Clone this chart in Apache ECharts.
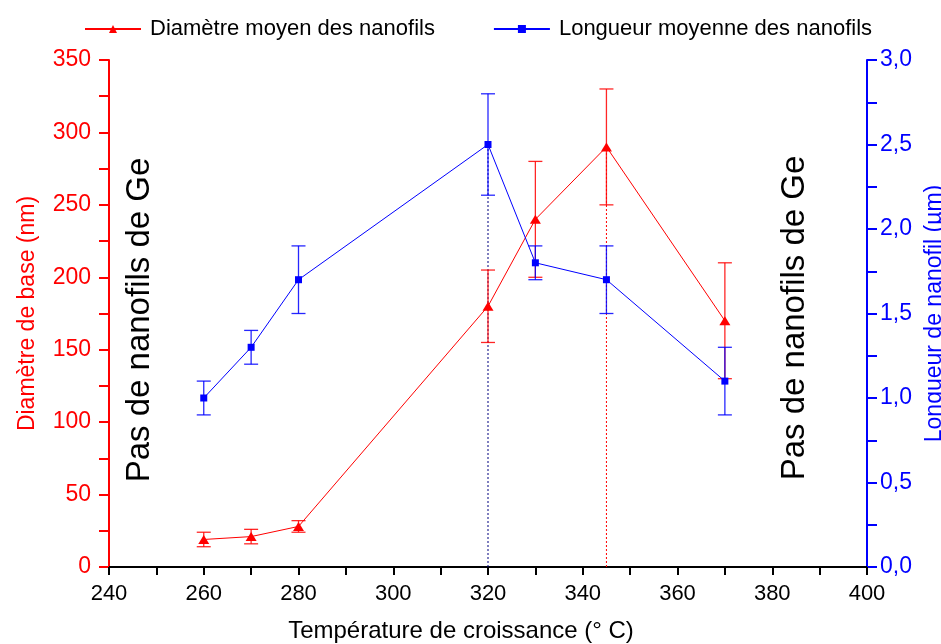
<!DOCTYPE html>
<html>
<head>
<meta charset="utf-8">
<script src="https://cdn.jsdelivr.net/npm/echarts@6/dist/echarts.min.js"></script>
<style>
html,body{margin:0;padding:0;background:#fff;}
#chart{width:941px;height:644px;}
</style>
</head>
<body>
<div id="chart"></div>
<script>
// ---- data ----
const temperatures   = [260, 270, 280, 320, 330, 345, 370];
const diameter       = [19, 21, 28, 180, 240, 290, 170];
const diameterLow    = [14, 16, 24, 155, 200, 250, 130];
const diameterHigh   = [24, 26, 32, 205, 280, 330, 210];
const lengthVals     = [1.0, 1.3, 1.7, 2.5, 1.8, 1.7, 1.1];
const lengthLow      = [0.9, 1.2, 1.5, 2.2, 1.7, 1.5, 0.9];
const lengthHigh     = [1.1, 1.4, 1.9, 2.8, 1.9, 1.9, 1.3];
const xRange         = [240, 400, 20];
const diamRange      = [0, 350, 50];
const lenRange       = [0, 3, 0.5];
const dottedDiam     = [345, 290];
const dottedLen      = [320, 2.5];
const seriesNames    = ['Diamètre moyen des nanofils', 'Longueur moyenne des nanofils'];
const annotation     = 'Pas de nanofils de Ge';
const xName = 'Température de croissance (° C)';
const yLeftName = 'Diamètre de base (nm)';
const yRightName = 'Longueur de nanofil (µm)';

const RED = '#ff0000', BLUE = '#0000ff';
const FONT = '"Liberation Sans", Arial, sans-serif';

function errSeries(id, lo, hi, color, yIdx) {
  return {
    type: 'custom', id: id, name: id, yAxisIndex: yIdx, z: 1, silent: true,
    encode: { x: 0, y: [1, 2] },
    data: temperatures.map((t, i) => [t, lo[i], hi[i]]),
    renderItem: function (params, api) {
      const x = api.value(0);
      const p1 = api.coord([x, api.value(1)]);
      const p2 = api.coord([x, api.value(2)]);
      const w = 7;
      const st = { stroke: color, lineWidth: 1.3, opacity: 0.85 };
      return { type: 'group', children: [
        { type: 'line', shape: { x1: p1[0], y1: p1[1], x2: p2[0], y2: p2[1] }, style: st },
        { type: 'line', shape: { x1: p1[0] - w, y1: p1[1], x2: p1[0] + w, y2: p1[1] }, style: st },
        { type: 'line', shape: { x1: p2[0] - w, y1: p2[1], x2: p2[0] + w, y2: p2[1] }, style: st }
      ]};
    }
  };
}

const chart = echarts.init(document.getElementById('chart'), null, { renderer: 'canvas' });
const commaFmt = v => v.toFixed(1).replace('.', ',');

chart.setOption({
  animation: false,
  backgroundColor: '#fff',
  textStyle: { fontFamily: FONT },
  grid: { left: 109, right: 74, top: 60, bottom: 77, containLabel: false, outerBoundsMode: 'none' },
  legend: {
    data: seriesNames,
    left: 79, top: 13,
    itemWidth: 56, itemHeight: 10, itemGap: 58,
    textStyle: { fontSize: 22, color: '#000', fontFamily: FONT, padding: [0, 0, 0, 4] }
  },
  xAxis: [{
    type: 'value', min: xRange[0], max: xRange[1], interval: xRange[2],
    name: xName, nameLocation: 'middle', nameGap: 52,
    nameTextStyle: { fontSize: 24, color: '#000', fontFamily: FONT, padding: [0, 54, 0, 0] },
    axisLine: { lineStyle: { color: '#000', width: 2 } },
    axisTick: { show: true, inside: false, length: 8, lineStyle: { color: '#000', width: 2 } },
    minorTick: { show: true, splitNumber: 2, length: 8, lineStyle: { color: '#000', width: 2 } },
    axisLabel: { fontSize: 22, color: '#000', margin: 16, fontFamily: FONT },
    splitLine: { show: false }
  }, {
    type: 'value', position: 'top', min: xRange[0], max: xRange[1],
    axisLine: { show: true, lineStyle: { color: '#000', width: 2 } },
    axisTick: { show: false }, axisLabel: { show: false }, splitLine: { show: false }
  }],
  yAxis: [{
    type: 'value', position: 'left', min: diamRange[0], max: diamRange[1], interval: diamRange[2],
    name: yLeftName, nameLocation: 'middle', nameGap: 70, nameRotate: 90,
    nameTextStyle: { fontSize: 23, color: RED, fontFamily: FONT },
    axisLine: { show: true, lineStyle: { color: RED, width: 2 } },
    axisTick: { show: true, inside: false, length: 10, lineStyle: { color: RED, width: 2 } },
    minorTick: { show: true, splitNumber: 2, length: 10, lineStyle: { color: RED, width: 2 } },
    axisLabel: { fontSize: 23, color: RED, margin: 18, fontFamily: FONT },
    splitLine: { show: false }
  }, {
    type: 'value', position: 'right', min: lenRange[0], max: lenRange[1], interval: lenRange[2],
    name: yRightName, nameLocation: 'middle', nameGap: 46, nameRotate: 90,
    nameTextStyle: { fontSize: 23, color: BLUE, fontFamily: FONT },
    axisLine: { show: true, lineStyle: { color: BLUE, width: 2 } },
    axisTick: { show: true, inside: false, length: 10, lineStyle: { color: BLUE, width: 2 } },
    minorTick: { show: true, splitNumber: 2, length: 10, lineStyle: { color: BLUE, width: 2 } },
    axisLabel: { fontSize: 23, color: BLUE, margin: 13, fontFamily: FONT, formatter: commaFmt },
    splitLine: { show: false }
  }],
  graphic: [
    { type: 'text', x: 140, y: 320, rotation: Math.PI / 2,
      style: { text: annotation, fontSize: 33, fill: '#000', fontFamily: FONT, align: 'center', verticalAlign: 'middle' } },
    { type: 'text', x: 795, y: 318, rotation: Math.PI / 2,
      style: { text: annotation, fontSize: 33, fill: '#000', fontFamily: FONT, align: 'center', verticalAlign: 'middle' } }
  ],
  series: [
    errSeries('errDiam', diameterLow, diameterHigh, RED, 0),
    errSeries('errLen', lengthLow, lengthHigh, BLUE, 1),
    {
      name: 'dotDiam', type: 'line', yAxisIndex: 0, symbol: 'none', silent: true, z: 0,
      data: [[dottedDiam[0], diamRange[0]], [dottedDiam[0], dottedDiam[1]]],
      lineStyle: { color: RED, width: 1, type: [2, 2] }
    },
    {
      name: 'dotLen', type: 'line', yAxisIndex: 1, symbol: 'none', silent: true, z: 0,
      data: [[dottedLen[0], lenRange[0]], [dottedLen[0], dottedLen[1]]],
      lineStyle: { color: '#000080', width: 1, type: [2, 2] }
    },
    {
      name: seriesNames[0], type: 'line', yAxisIndex: 0, z: 3,
      data: temperatures.map((t, i) => [t, diameter[i]]),
      symbol: 'triangle', symbolSize: [11, 9],
      itemStyle: { color: RED }, lineStyle: { color: RED, width: 1 }
    },
    {
      name: seriesNames[1], type: 'line', yAxisIndex: 1, z: 3,
      data: temperatures.map((t, i) => [t, lengthVals[i]]),
      symbol: 'rect', symbolSize: 7,
      itemStyle: { color: BLUE }, lineStyle: { color: BLUE, width: 1 }
    }
  ]
});
</script>
</body>
</html>
